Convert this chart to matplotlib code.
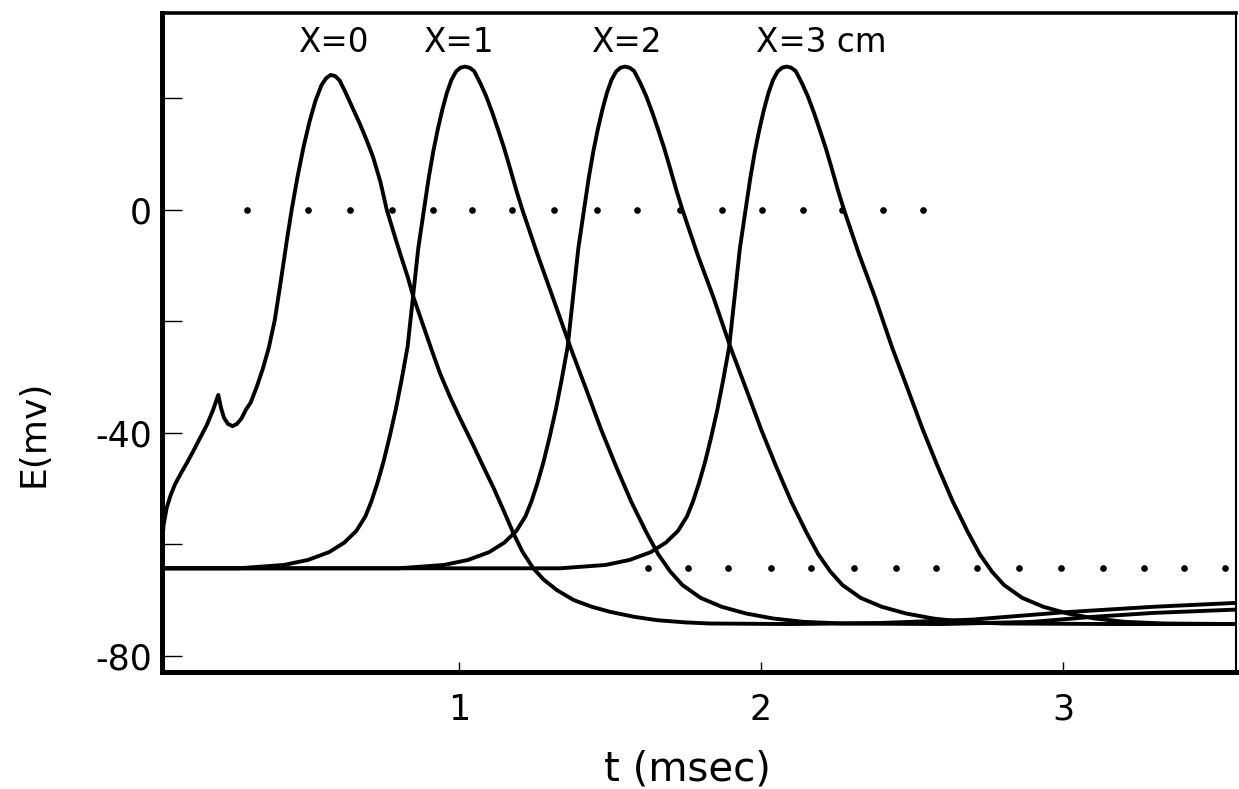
import matplotlib
matplotlib.use("Agg")
import matplotlib.pyplot as plt
from matplotlib.ticker import FixedLocator

plt.rcParams['font.family'] = ['DejaVu Sans']

# ---------------- data ----------------
REST = -64.3

t_x0 = [0.012, 0.016, 0.022, 0.032, 0.045, 0.060, 0.080, 0.100, 0.120, 0.140,
        0.165, 0.185, 0.203, 0.212, 0.222, 0.235, 0.250, 0.265, 0.280, 0.295,
        0.310, 0.330, 0.350, 0.370, 0.390, 0.410, 0.430, 0.446, 0.465, 0.485,
        0.505, 0.525, 0.545, 0.560, 0.575, 0.590, 0.605, 0.625, 0.645, 0.672,
        0.695, 0.716, 0.740, 0.761, 0.785, 0.805, 0.830, 0.849, 0.880, 0.910,
        0.937, 0.970, 1.000, 1.047, 1.080, 1.114, 1.150, 1.180, 1.210, 1.246,
        1.280, 1.324, 1.380, 1.440, 1.500, 1.580, 1.655, 1.750, 1.831, 2.100,
        2.400, 2.700, 3.000, 3.300, 3.575]
E_x0 = [-64.3, -60.5, -56.5, -53.5, -51.2, -49.2, -47.2, -45.3, -43.3, -41.2,
        -38.6, -36.0, -33.2, -35.5, -37.3, -38.4, -38.8, -38.4, -37.4, -35.8,
        -34.6, -31.8, -28.6, -24.8, -19.8, -12.8, -5.5, 0.0, 5.8, 11.2,
        15.8, 19.6, 22.4, 23.6, 24.2, 24.0, 23.2, 21.0, 18.6, 15.4,
        12.4, 9.4, 5.0, 0.0, -4.3, -7.8, -12.0, -15.6, -20.5, -25.2,
        -29.3, -33.5, -37.0, -42.2, -46.0, -49.8, -54.2, -58.0, -61.3, -64.3,
        -66.3, -68.2, -70.0, -71.2, -72.1, -73.0, -73.6, -74.0, -74.2, -74.3,
        -74.1, -73.5, -72.2, -71.2, -70.5]

t_x1 = [0.000, 0.270, 0.420, 0.500, 0.570, 0.620, 0.660, 0.690, 0.710, 0.730,
        0.750, 0.770, 0.790, 0.810, 0.830, 0.850, 0.865, 0.884, 0.900, 0.915,
        0.930, 0.945, 0.960, 0.975, 0.990, 1.005, 1.020, 1.035, 1.050, 1.070,
        1.090, 1.110, 1.130, 1.150, 1.170, 1.190, 1.210, 1.260, 1.310, 1.370,
        1.420, 1.470, 1.520, 1.570, 1.620, 1.660, 1.700, 1.740, 1.800, 1.870,
        1.950, 2.040, 2.140, 2.270, 2.600, 2.900, 3.100, 3.300, 3.575]
E_x1 = [REST, REST, -63.7, -62.8, -61.4, -59.7, -57.6, -55.0, -52.3, -49.0,
        -45.2, -40.8, -36.0, -30.5, -24.5, -14.5, -7.0, 0.0, 5.8, 10.5,
        14.5, 18.0, 21.0, 23.3, 24.8, 25.5, 25.7, 25.5, 24.9, 22.8,
        20.4, 17.5, 14.3, 11.0, 7.3, 3.5, 0.0, -8.0, -15.6, -24.8,
        -32.0, -39.3, -46.0, -52.3, -57.8, -61.8, -64.9, -67.3, -69.6, -71.2,
        -72.4, -73.3, -73.9, -74.2, -74.3, -73.9, -73.0, -72.3, -71.7]

t_x2 = [0.000, 0.800, 0.950, 1.030, 1.100, 1.150, 1.190, 1.220, 1.240, 1.260,
        1.280, 1.300, 1.320, 1.340, 1.360, 1.380, 1.395, 1.414, 1.430, 1.445,
        1.460, 1.475, 1.490, 1.505, 1.520, 1.535, 1.550, 1.565, 1.580, 1.600,
        1.620, 1.640, 1.660, 1.680, 1.700, 1.720, 1.740, 1.790, 1.842, 1.900,
        1.950, 2.000, 2.050, 2.100, 2.150, 2.190, 2.230, 2.270, 2.330, 2.400,
        2.480, 2.570, 2.670, 2.800, 3.200, 3.575]
E_x2 = [REST, REST, -63.7, -62.8, -61.4, -59.7, -57.6, -55.0, -52.3, -49.0,
        -45.2, -40.8, -36.0, -30.5, -24.5, -14.5, -7.0, 0.0, 5.8, 10.5,
        14.5, 18.0, 21.0, 23.3, 24.8, 25.5, 25.7, 25.5, 24.9, 22.8,
        20.4, 17.5, 14.3, 11.0, 7.3, 3.5, 0.0, -8.0, -15.6, -24.8,
        -32.0, -39.3, -46.0, -52.3, -57.8, -61.8, -64.9, -67.3, -69.6, -71.2,
        -72.4, -73.3, -73.9, -74.2, -74.3, -74.3]

t_x3 = [0.000, 1.335, 1.485, 1.565, 1.635, 1.685, 1.725, 1.755, 1.775, 1.795,
        1.815, 1.835, 1.855, 1.875, 1.895, 1.915, 1.930, 1.949, 1.965, 1.980,
        1.995, 2.010, 2.025, 2.040, 2.055, 2.070, 2.085, 2.100, 2.115, 2.135,
        2.155, 2.175, 2.195, 2.215, 2.235, 2.255, 2.275, 2.325, 2.377, 2.435,
        2.485, 2.535, 2.585, 2.635, 2.685, 2.725, 2.765, 2.805, 2.865, 2.935,
        3.015, 3.105, 3.205, 3.335, 3.575]
E_x3 = [REST, REST, -63.7, -62.8, -61.4, -59.7, -57.6, -55.0, -52.3, -49.0,
        -45.2, -40.8, -36.0, -30.5, -24.5, -14.5, -7.0, 0.0, 5.8, 10.5,
        14.5, 18.0, 21.0, 23.3, 24.8, 25.5, 25.7, 25.5, 24.9, 22.8,
        20.4, 17.5, 14.3, 11.0, 7.3, 3.5, 0.0, -8.0, -15.6, -24.8,
        -32.0, -39.3, -46.0, -52.3, -57.8, -61.8, -64.9, -67.3, -69.6, -71.2,
        -72.4, -73.3, -73.9, -74.2, -74.3]

# dotted reference levels
dots_zero_t = [0.297, 0.500, 0.639, 0.777, 0.913, 1.043, 1.175, 1.315, 1.456,
               1.588, 1.732, 1.870, 2.002, 2.140, 2.267, 2.405, 2.537]
dots_zero_E = 0.0
dots_rest_t = [1.625, 1.759, 1.890, 2.033, 2.166, 2.309, 2.447, 2.579, 2.714,
               2.855, 2.993, 3.131, 3.269, 3.401, 3.536]
dots_rest_E = -64.2

curve_labels = ["X=0", "X=1", "X=2", "X=3 cm"]
label_t = [0.583, 0.997, 1.553, 2.199]
label_E = 30.1

xtick_vals = [1, 2, 3]
xtick_labels = ["1", "2", "3"]
ytick_major = [0, -40, -80]
ytick_major_labels = ["0", "-40", "-80"]
ytick_minor = [20, -20, -60]

# ---------------- figure ----------------
W, H = 1239, 789
fig = plt.figure(figsize=(W / 100, H / 100), dpi=100)
ax = fig.add_axes([161.5 / W, 1 - 672 / H, (1236 - 161.5) / W, (672 - 12.5) / H])

for tt, ee in [(t_x0, E_x0), (t_x1, E_x1), (t_x2, E_x2), (t_x3, E_x3)]:
    ax.plot(tt, ee, color='black', lw=2.8, solid_joinstyle='round',
            solid_capstyle='round')

ax.plot(dots_zero_t, [dots_zero_E] * len(dots_zero_t), linestyle='none',
        marker='o', ms=3.8, color='black')
ax.plot(dots_rest_t, [dots_rest_E] * len(dots_rest_t), linestyle='none',
        marker='o', ms=3.8, color='black')

for lab, lt in zip(curve_labels, label_t):
    ax.text(lt, label_E, lab, ha='center', va='center', fontsize=23.5)

ax.set_xlim(0.015, 3.573)
ax.set_ylim(-82.9, 35.4)

ax.set_xticks(xtick_vals)
ax.set_xticklabels(xtick_labels, fontsize=25)
ax.set_yticks(ytick_major)
ax.set_yticklabels(ytick_major_labels, fontsize=25)
ax.yaxis.set_minor_locator(FixedLocator(ytick_minor))

ax.tick_params(axis='y', which='both', direction='in', length=14.5, width=1.0,
               pad=7, colors='black')
ax.tick_params(axis='x', which='both', direction='in', length=7, width=1.0,
               pad=15, colors='black')

ax.spines['left'].set_linewidth(3.6)
ax.spines['bottom'].set_linewidth(3.6)
ax.spines['top'].set_linewidth(2.6)
ax.spines['right'].set_linewidth(1.5)

fig.text(34 / W, 1 - 433 / H, "E(mv)", rotation=90, ha='center', va='center',
         fontsize=26)
fig.text(687 / W, 1 - 770 / H, "t (msec)", ha='center', va='center',
         fontsize=29)

fig.savefig("out.png", dpi=100)
